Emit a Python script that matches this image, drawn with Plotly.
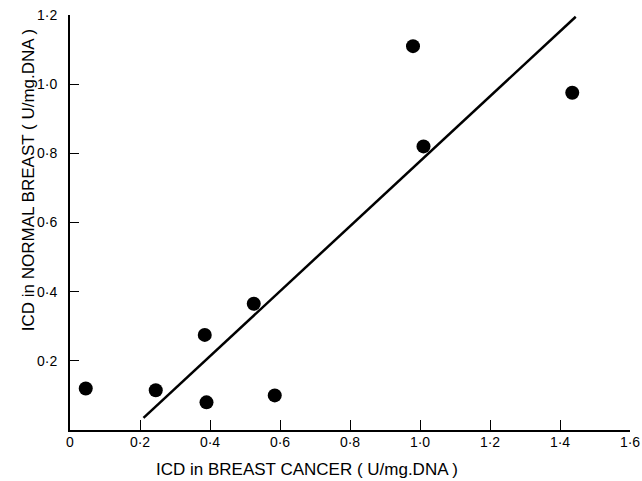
import plotly.graph_objects as go

# Data
cancer_icd = [0.045, 0.245, 0.385, 0.39, 0.525, 0.585, 0.98, 1.01, 1.435]
normal_icd = [0.12, 0.115, 0.275, 0.08, 0.365, 0.10, 1.11, 0.82, 0.975]

fit_x = [0.21, 1.445]
fit_y = [0.035, 1.195]

x_tickvals = [0, 0.2, 0.4, 0.6, 0.8, 1.0, 1.2, 1.4, 1.6]
x_ticktext = ["0", "0·2", "0·4", "0·6", "0·8", "1·0", "1·2", "1·4", "1·6"]
y_tickvals = [0.2, 0.4, 0.6, 0.8, 1.0, 1.2]
y_ticktext = ["0·2", "0·4", "0·6", "0·8", "1·0", "1·2"]

x_title = "ICD in BREAST CANCER ( U/mg.DNA )"
y_title = "ICD in NORMAL BREAST ( U/mg.DNA )"

font_family = "Liberation Sans, Arial, sans-serif"

fig = go.Figure()
fig.add_trace(go.Scatter(x=fit_x, y=fit_y, mode="lines",
                         line=dict(color="black", width=2.5),
                         showlegend=False, hoverinfo="skip"))
fig.add_trace(go.Scatter(x=cancer_icd, y=normal_icd, mode="markers",
                         marker=dict(color="black", size=14),
                         showlegend=False))

fig.update_layout(
    width=642, height=481,
    margin=dict(l=70, r=12, t=15, b=51),
    paper_bgcolor="white", plot_bgcolor="white",
    font=dict(family=font_family, color="black", size=14),
    xaxis=dict(range=[0, 1.6], showline=True, linecolor="black", linewidth=2,
               showgrid=False, zeroline=False, ticks="inside", ticklen=10,
               tickwidth=1, tickcolor="black", tickvals=x_tickvals,
               ticktext=x_ticktext, tickfont=dict(size=14),
               automargin=False, ticklabelstandoff=-2),
    yaxis=dict(range=[0, 1.2], showline=True, linecolor="black", linewidth=2,
               showgrid=False, zeroline=False, ticks="inside", ticklen=9,
               tickwidth=1, tickcolor="black", tickvals=y_tickvals,
               ticktext=y_ticktext, tickfont=dict(size=14),
               automargin=False, ticklabelstandoff=8),
    annotations=[
        dict(text=x_title, xref="paper", yref="paper", x=0.423, y=-0.096,
             xanchor="center", yanchor="middle", showarrow=False,
             font=dict(size=17)),
        dict(text=y_title, xref="paper", yref="paper", x=-0.075, y=0.602,
             xanchor="center", yanchor="middle", textangle=-90, showarrow=False,
             font=dict(size=17)),
    ],
)

# Remove the default page margin so the figure fills the window exactly.
fig.write_html("out.html",
               config={"displayModeBar": False},
               post_script="document.body.style.margin='0';document.body.style.overflow='hidden';")
